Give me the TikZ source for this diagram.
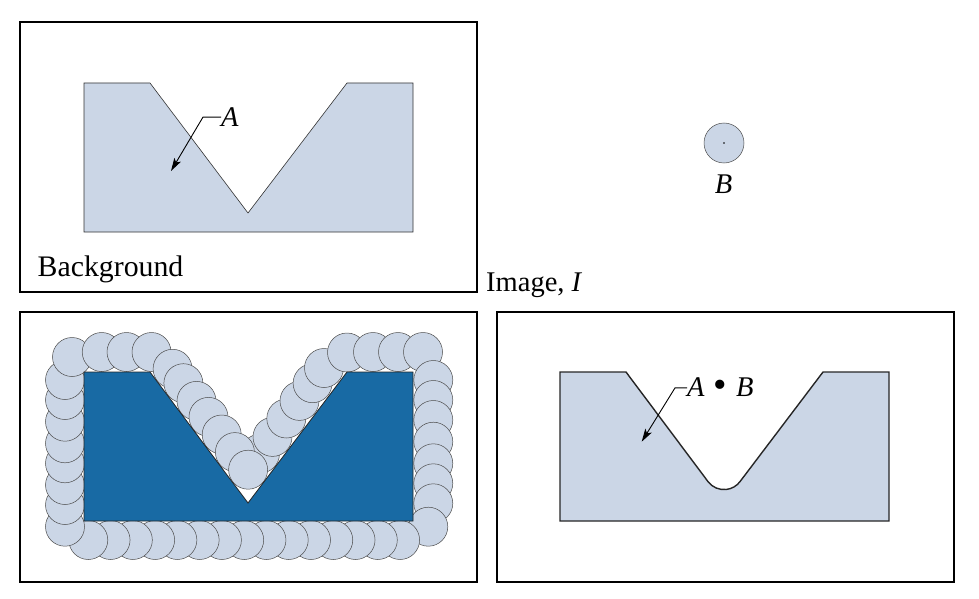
\documentclass[tikz,border=0pt]{standalone}
\usepackage{fontspec}
\setmainfont{Liberation Serif}
\usetikzlibrary{arrows.meta}
\definecolor{lightfill}{RGB}{203,214,230}
\definecolor{darkfill}{RGB}{24,106,164}
\begin{document}
\begin{tikzpicture}[x=1pt,y=-1pt,
  frame/.style={draw=black,line width=1.2pt},
  shapeA/.style={fill=lightfill,draw=black!80,line width=0.6pt,line join=miter},
  disk/.style={fill=lightfill,draw=black!70,line width=0.5pt},
  lbl/.style={font=\fontsize{28.5pt}{32pt}\selectfont,inner sep=0pt},
  leader/.style={line width=0.9pt,-{Stealth[length=13pt,width=7.5pt,inset=3pt]}}
]
\useasboundingbox (0,0) rectangle (979,599);

% ---------- top-left: image with A ----------
\draw[frame] (20,22) rectangle (477,292);
\draw[shapeA] (84,83) -- (150,83) -- (248,213) -- (347,83) -- (413,83) -- (413,232) -- (84,232) -- cycle;
\node[lbl,anchor=base west] (labA) at (221,126.5) {\textit{A}};
\coordinate (tipA) at (171,171);
\draw[leader] (labA.west) -- ++(-18,0) -- (tipA);
\node[lbl,anchor=base west,font=\fontsize{29.8pt}{32pt}\selectfont] (bg) at (37.5,276.7) {Background};
\node[lbl,anchor=base west] (img) at (486,291.7) {Image, \textit{I}};

% ---------- top-right: structuring element B ----------
\draw[disk] (724,143) circle[radius=20pt];
\fill[black] (724,143) circle[radius=0.9pt];
\node[lbl,anchor=base] (labB) at (723.5,193.3) {\textit{B}};

% ---------- bottom-left: rolling B outside A ----------
\draw[frame] (20,312) rectangle (477,582);
\foreach \p in {(260,453.7),(272.5,436.9),(286.3,418.5),(299.5,400.9),(312.6,383.2),(324,368),
                (347,352.5),(373,352),(398,352),(423,352),
                (433.3,380),(433.3,400),(433.3,420),(433.3,441.7),(433.3,463.3),(433.3,483.3),(433.3,503.3),(428.3,526.7)}
  \draw[disk] \p circle[radius=19.5pt];
\foreach \i in {14,13,...,0}
  \draw[disk] ({88.3+22.27*\i},540) circle[radius=19.5pt];
\foreach \p in {(65,526.7),(65,505),(65,485),(65,463.3),(65,443.3),(65,421.7),(65,400),(65,380),
                (72,357),(101.7,352),(126.5,352),(151.5,352),
                (172.6,368.8),(183.4,383.2),(196.5,400.9),(208.5,416.9),(221.7,434.5),(234.9,452.1),(248.1,469.7)}
  \draw[disk] \p circle[radius=19.5pt];
\draw[fill=darkfill,draw=black!85,line width=0.8pt]
  (84,372) -- (150,372) -- (248,503) -- (347,372) -- (413,372) -- (413,521) -- (84,521) -- cycle;

% ---------- bottom-right: closing A . B ----------
\draw[frame] (497,312) rectangle (954,582);
\draw[fill=lightfill,draw=black!85,line width=1.4pt,line join=miter]
  (560,372) -- (626,372) -- (708,481.6)
  arc[start angle=216.87,end angle=323.13,radius=20pt]
  -- (823,372) -- (889,372) -- (889,521) -- (560,521) -- cycle;
\node[lbl,anchor=base west] (labAB) at (687,396.7)
  {\textit{A}\hspace{9pt}\raisebox{-1.2pt}{\scalebox{1.35}{\textbullet}}\hspace{9pt}\textit{B}};
\coordinate (tipAB) at (641.7,441.7);
\draw[leader] (labAB.west) -- ++(-12,0) -- (tipAB);
\end{tikzpicture}
\end{document}
